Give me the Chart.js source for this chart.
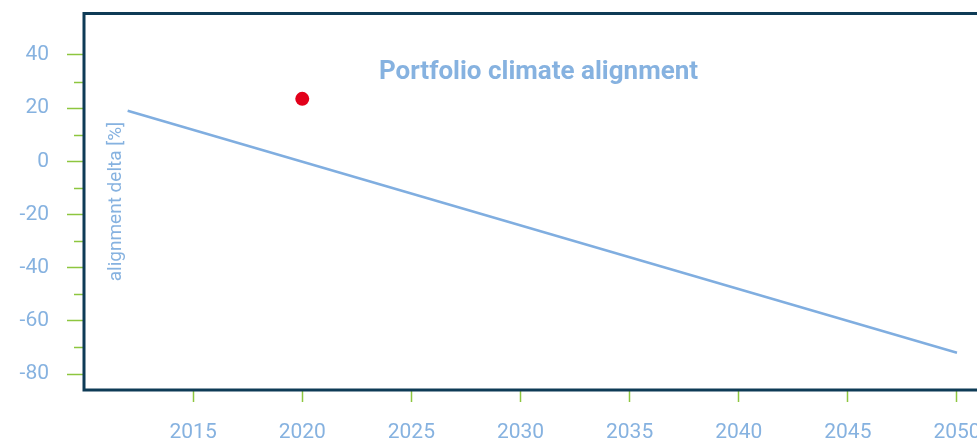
<!DOCTYPE html>
<html>
<head>
<meta charset="utf-8">
<script src="https://cdn.jsdelivr.net/npm/chart.js@4"></script>
<style>
  html, body { margin: 0; padding: 0; background: #fff; overflow: hidden; }
  #wrap { position: relative; width: 1000px; height: 440px; }
</style>
</head>
<body>
<div id="wrap"><canvas id="alignment-chart"></canvas></div>
<script>
// data
const years = [2012, 2050];
const alignmentDelta = [19, -72];
const portfolioYear = [2020];
const portfolioValue = [23.5];
const xTicks = [2015, 2020, 2025, 2030, 2035, 2040, 2045, 2050];
const yTicks = [-80, -60, -40, -20, 0, 20, 40];
const yMinorTicks = [-70, -50, -30, -10, 10, 30];

const labelColor = "#86b2e0";
const tickGreen = "#8dc63f";
const frameColor = "#0e3b56";

// frame, minor ticks and the in-plot texts
const framePlugin = {
  id: "frame",
  afterDatasetsDraw(chart) {
    const { ctx, chartArea: a, scales } = chart;
    ctx.save();
    ctx.strokeStyle = tickGreen;
    ctx.lineWidth = 1.5;
    yMinorTicks.forEach((v) => {
      const y = Math.round(scales.y.getPixelForValue(v)) + 0.5;
      ctx.beginPath();
      ctx.moveTo(a.left - 10, y);
      ctx.lineTo(a.left, y);
      ctx.stroke();
    });
    ctx.strokeStyle = frameColor;
    ctx.lineWidth = 3;
    ctx.strokeRect(a.left, a.top, a.right - a.left, a.bottom - a.top);

    ctx.fillStyle = labelColor;
    ctx.textAlign = "center";
    ctx.textBaseline = "middle";
    ctx.font = "bold 26px Roboto";
    ctx.fillText("Portfolio climate alignment", (a.left + a.right) / 2, a.top + 59);

    ctx.translate(a.left + 32, a.top + 188);
    ctx.rotate(-Math.PI / 2);
    ctx.font = "19px Roboto";
    ctx.fillText("alignment delta [%]", 0, 0);
    ctx.restore();
  },
};

const data = {
  datasets: [
    {
      label: "alignment",
      data: years.map((x, i) => ({ x: x, y: alignmentDelta[i] })),
      borderColor: "#80aee0",
      borderWidth: 2.5,
      pointRadius: 0,
      fill: false,
    },
    {
      label: "portfolio",
      data: portfolioYear.map((x, i) => ({ x: x, y: portfolioValue[i] })),
      showLine: false,
      pointRadius: 7,
      pointBackgroundColor: "#e2001a",
      pointBorderWidth: 0,
    },
  ],
};

const config = {
  type: "line",
  data: data,
  plugins: [framePlugin],
  options: {
    responsive: false,
    animation: false,
    layout: { padding: { top: 13.5, right: 1, left: 0, bottom: 0 } },
    plugins: {
      legend: { display: false },
      tooltip: { enabled: false },
    },
    scales: {
      x: {
        type: "linear",
        min: 2010,
        max: 2051.65,
        afterBuildTicks: (s) => { s.ticks = xTicks.map((v) => ({ value: v })); },
        afterFit: (s) => { s.height = 50; s.paddingLeft = 0; s.paddingRight = 0; },
        border: { display: false },
        grid: { drawOnChartArea: false, tickLength: 12, tickColor: tickGreen, tickWidth: 1.5 },
        ticks: {
          color: labelColor,
          padding: 18,
          maxRotation: 0,
          font: { family: "Roboto", size: 21 },
          callback: (v) => String(v),
        },
      },
      y: {
        min: -86,
        max: 55.6,
        afterBuildTicks: (s) => { s.ticks = yTicks.map((v) => ({ value: v })); },
        afterFit: (s) => { s.width = 84; s.paddingTop = 0; s.paddingBottom = 0; },
        border: { display: false },
        grid: { drawOnChartArea: false, tickLength: 17, tickColor: tickGreen, tickWidth: 1.5 },
        ticks: {
          color: labelColor,
          padding: 18,
          font: { family: "Roboto", size: 21 },
          callback: (v) => String(v),
        },
      },
    },
  },
};

const canvas = document.getElementById("alignment-chart");
canvas.width = 1000;
canvas.height = 440;
new Chart(canvas, config);
</script>
</body>
</html>
